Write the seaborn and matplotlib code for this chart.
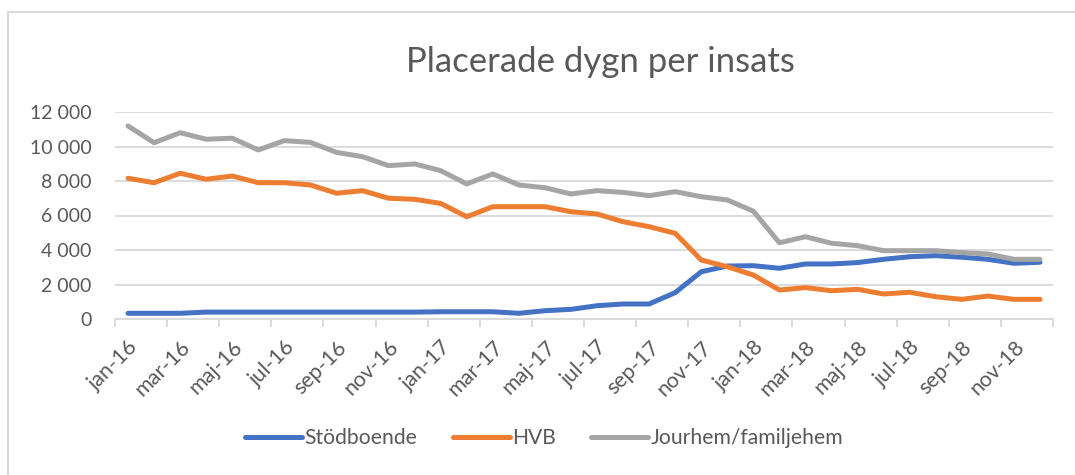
import matplotlib
matplotlib.use("Agg")
import matplotlib.pyplot as plt
from matplotlib.ticker import FuncFormatter, FixedLocator
from matplotlib.patches import Rectangle
import numpy as np
import pandas as pd
import seaborn as sns

# data
months = ["jan-16", "feb-16", "mar-16", "apr-16", "maj-16", "jun-16",
          "jul-16", "aug-16", "sep-16", "okt-16", "nov-16", "dec-16",
          "jan-17", "feb-17", "mar-17", "apr-17", "maj-17", "jun-17",
          "jul-17", "aug-17", "sep-17", "okt-17", "nov-17", "dec-17",
          "jan-18", "feb-18", "mar-18", "apr-18", "maj-18", "jun-18",
          "jul-18", "aug-18", "sep-18", "okt-18", "nov-18", "dec-18"]

stodboende = [330, 330, 330, 400, 400, 400, 400, 400, 400, 400, 400, 400,
              420, 420, 420, 330, 480, 560, 770, 870, 870, 1530, 2740, 3070,
              3090, 2940, 3190, 3190, 3270, 3460, 3610, 3670, 3580, 3460, 3230, 3290]
hvb = [8160, 7900, 8450, 8100, 8290, 7900, 7900, 7770, 7290, 7440, 7000, 6940,
       6700, 5930, 6510, 6510, 6510, 6220, 6090, 5640, 5350, 4970, 3420, 3030,
       2550, 1680, 1820, 1640, 1720, 1450, 1550, 1290, 1140, 1330, 1140, 1140]
jourhem = [11190, 10220, 10800, 10420, 10480, 9800, 10340, 10240, 9660, 9410, 8890, 8990,
           8600, 7830, 8410, 7770, 7610, 7250, 7440, 7340, 7150, 7380, 7090, 6900,
           6250, 4420, 4770, 4390, 4250, 3960, 3960, 3960, 3850, 3770, 3460, 3460]

series = ["Stödboende", "HVB", "Jourhem/familjehem"]
colors = {"Stödboende": "#4472C4", "HVB": "#ED7D31", "Jourhem/familjehem": "#A5A5A5"}

n = len(months)
df = pd.DataFrame({
    "idx": list(range(n)) * 3,
    "value": stodboende + hvb + jourhem,
    "serie": [s for s in series for _ in range(n)],
})

sns.set_style("white")
plt.rcParams["font.family"] = ["Lato", "DejaVu Sans"]
txt = "#595959"

fig = plt.figure(figsize=(10.75, 4.75), dpi=100)
ax = fig.add_axes([115 / 1075, 1 - 319 / 475, (1053 - 115) / 1075, (319 - 112) / 475])

sns.lineplot(data=df, x="idx", y="value", hue="serie", hue_order=series,
             palette=colors, linewidth=3.6, ax=ax, legend=True)

ax.set_xlim(-0.5, n - 0.5)
ax.set_ylim(0, 12000)
ax.set_yticks(np.arange(0, 12001, 2000))
ax.yaxis.set_major_formatter(FuncFormatter(lambda v, p: f"{int(v):,}".replace(",", " ")))
ax.grid(axis="y", color="#D9D9D9", linewidth=1.3)
ax.set_axisbelow(True)

ax.set_xticks(range(0, n, 2))
ax.set_xticklabels(months[::2], rotation=45, ha="right", rotation_mode="anchor")
ax.xaxis.set_minor_locator(FixedLocator(np.arange(-0.5, n, 2).tolist() + [n - 0.5]))
ax.tick_params(axis="x", which="major", length=0, pad=13, labelsize=15.5, colors=txt)
ax.tick_params(axis="x", which="minor", length=6, width=1.3, color="#D9D9D9", bottom=True)
ax.tick_params(axis="y", length=0, pad=17, labelsize=14, colors=txt)
ax.set_xlabel("")
ax.set_ylabel("")

for s in ["top", "right", "left"]:
    ax.spines[s].set_visible(False)
ax.spines["bottom"].set_color("#D9D9D9")
ax.spines["bottom"].set_linewidth(1.3)

handles, labels = ax.get_legend_handles_labels()
ax.get_legend().remove()
fig.legend(handles, labels, loc="center", bbox_to_anchor=(544 / 1075, 1 - 438 / 475),
           ncol=3, frameon=False, fontsize=15.2, handlelength=2.7, handletextpad=0.1,
           columnspacing=1.7, labelcolor=txt)

fig.text(600 / 1075, 1 - 62 / 475, "Placerade dygn per insats", ha="center", va="center",
         fontsize=25, color=txt)

# chart area border (only left/top visible in the crop)
fig.patches.append(Rectangle((8 / 1075, -0.1), 1.2, 1 - 12 / 475 + 0.1, transform=fig.transFigure,
                             fill=False, edgecolor="#D9D9D9", linewidth=1.5))

fig.savefig("out.png", dpi=100)
